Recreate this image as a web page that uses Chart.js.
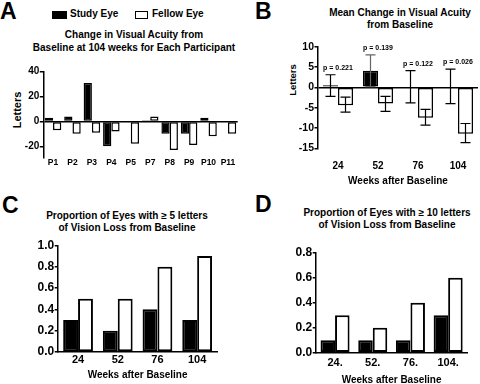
<!DOCTYPE html>
<html><head><meta charset="utf-8">
<script src="https://cdn.jsdelivr.net/npm/chart.js@4/dist/chart.umd.min.js"></script>
<style>
html,body{margin:0;padding:0;background:#fff}
body{width:480px;height:384px;position:relative;overflow:hidden;font-family:"Liberation Sans",Arial,sans-serif;font-weight:bold;color:#000}
.t{position:absolute;white-space:nowrap}
.letter{font-size:23px;line-height:23px}
.ttl{font-size:10px;text-align:center;transform:translateX(-50%)}
.yt{transform:translate(-50%,-50%) rotate(-90deg)}
canvas{position:absolute}
.box{position:absolute;box-sizing:border-box}
</style></head><body>

<div class="t letter" style="left:0;top:0">A</div>
<div class="t letter" style="left:255px;top:0">B</div>
<div class="t letter" style="left:2px;top:194px">C</div>
<div class="t letter" style="left:255px;top:193px">D</div>

<div class="box" style="left:52px;top:11px;width:15px;height:8px;background:#000"></div>
<div class="t" style="left:70px;top:8px;font-size:10px">Study Eye</div>
<div class="box" style="left:135px;top:11px;width:13px;height:8px;border:1.5px solid #000;background:#fff"></div>
<div class="t" style="left:152px;top:8px;font-size:10px">Fellow Eye</div>

<div class="t ttl" style="left:134px;top:27.5px;line-height:13px">Change in Visual Acuity from<br>Baseline at 104 weeks for Each Participant</div>
<div class="t ttl" style="left:400px;top:7px;line-height:11.5px">Mean Change in Visual Acuity<br>from Baseline</div>
<div class="t ttl" style="left:127px;top:210px;line-height:12px">Proportion of Eyes with ≥ 5 letters<br>of Vision Loss from Baseline</div>
<div class="t ttl" style="left:387px;top:207px;line-height:11.5px">Proportion of Eyes with ≥ 10 letters<br>of Vision Loss from Baseline</div>

<div class="t yt" style="left:16.7px;top:110px;font-size:11px">Letters</div>
<div class="t yt" style="left:291.5px;top:80px;font-size:9.5px">Letters</div>

<canvas id="cA" style="left:0;top:60px" width="240" height="110"></canvas>
<canvas id="cB" style="left:240px;top:30px" width="240" height="160"></canvas>
<canvas id="cC" style="left:0;top:235px" width="240" height="149"></canvas>
<canvas id="cD" style="left:240px;top:240px" width="240" height="144"></canvas>

<script>
// ---- Data ----
const participants = ['P1','P2','P3','P4','P5','P7','P8','P9','P10','P11'];
const studyA  = [3, 4, 31, -20, 0, 1, -10, -10, 3, 0];
const fellowA = [-7, -10, -9, -8, -18, 4, -23, -19, -12, -10];
const ticksA = [-20, 0, 20, 40];

const weeks = ['24','52','76','104'];
const studyB      = [0.5, 4.1, 0.2, 0.2];
const studyBLow   = [-2.2, 0.2, -3.8, -4.0];
const studyBHigh  = [3.1, 8.0, 4.1, 4.5];
const fellowB     = [-4.4, -4.0, -7.5, -11.4];
const fellowBLow  = [-6.1, -5.9, -9.3, -13.6];
const fellowBHigh = [-2.4, -2.2, -5.4, -8.9];
const pValues = ['p = 0.221','p = 0.139','p = 0.122','p = 0.026'];

const studyC  = [0.3, 0.2, 0.4, 0.3];
const fellowC = [0.5, 0.5, 0.8, 0.9];

const weeksD = ['24.','52.','76.','104.'];
const studyD  = [0.1, 0.1, 0.1, 0.3];
const fellowD = [0.3, 0.2, 0.4, 0.6];

// ---- Common ----
const FONT = '"Liberation Sans", Arial, sans-serif';
Chart.defaults.font.family = FONT;
Chart.defaults.font.weight = 'bold';
Chart.defaults.color = '#000';
Chart.defaults.animation = false;

function ds(label, data, filled, bw) {
  return {label, data, backgroundColor: filled ? '#000' : '#fff', borderColor: '#000',
    borderWidth: bw, borderSkipped: false, barPercentage: 1, categoryPercentage: 0.8};
}

function makeChart(id, cfg) {
  const {labels, sets, yMin, yMax, step, yTicks, yW, xH, pad, catPct, yFont, xFont, xTickPad,
         zeroLine, xBorder, xTitle, xTitleFont, xTitlePad, fmt, plugins} = cfg;
  sets.forEach(s => s.categoryPercentage = catPct);
  return new Chart(document.getElementById(id), {
    type: 'bar',
    data: {labels, datasets: sets},
    plugins: plugins || [],
    options: {
      responsive: false, maintainAspectRatio: false,
      layout: {padding: pad},
      plugins: {legend: {display: false}, tooltip: {enabled: false}},
      scales: {
        x: {
          grid: {display: false, drawTicks: false},
          border: {display: xBorder, color: '#000', width: 1.5},
          ticks: {font: {size: xFont, weight: 'bold'}, padding: xTickPad, maxRotation: 0, autoSkip: false},
          title: xTitle ? {display: true, text: xTitle, font: {size: xTitleFont, weight: 'bold'}, padding: xTitlePad} : {display: false},
          afterFit: s => { s.height = xH; }
        },
        y: {
          min: yMin, max: yMax,
          grid: {
            drawOnChartArea: !!zeroLine, drawTicks: true, tickLength: 3.5, tickWidth: 1.5,
            tickColor: '#000', lineWidth: 1.5,
            color: c => (zeroLine && c.tick && c.tick.value === 0) ? '#000' : 'rgba(0,0,0,0)'
          },
          border: {display: true, color: '#000', width: 1.5},
          ticks: {font: {size: yFont, weight: 'bold'}, padding: 0.5, stepSize: step,
                  callback: v => fmt ? fmt(v) : v},
          afterBuildTicks: yTicks ? (s => { s.ticks = yTicks.map(v => ({value: v})); }) : undefined,
          afterFit: s => { s.width = yW; }
        }
      }
    }
  });
}

// Panel A
makeChart('cA', {
  labels: participants,
  sets: [ds('Study Eye', studyA, true, 1.5), ds('Fellow Eye', fellowA, false, 1.5)],
  yMin: -29, yMax: 40, yTicks: ticksA, yW: 43.3, xH: 12.5,
  pad: {left: 0, right: 2.3, top: 11.7, bottom: 0}, catPct: 0.85,
  yFont: 10, xFont: 8.5, xTickPad: 0, zeroLine: true, xBorder: false
});

// Panel B: error bars + p-values plugin
const errorBars = {
  id: 'errorBars',
  afterDatasetsDraw(chart) {
    const ctx = chart.ctx, y = chart.scales.y;
    const lows = [studyBLow, fellowBLow], highs = [studyBHigh, fellowBHigh];
    ctx.save();
    ctx.lineWidth = 1.2;
    chart.data.datasets.forEach((d, di) => {
      const meta = chart.getDatasetMeta(di);
      meta.data.forEach((bar, i) => {
        const x = bar.x, top = y.getPixelForValue(highs[di][i]), bot = y.getPixelForValue(lows[di][i]);
        const cap = 5;
        ctx.strokeStyle = (di === 0 && i === 1) ? '#666' : '#000';
        ctx.beginPath();
        ctx.moveTo(x, top); ctx.lineTo(x, bot);
        ctx.moveTo(x - cap, top); ctx.lineTo(x + cap, top);
        ctx.moveTo(x - cap, bot); ctx.lineTo(x + cap, bot);
        ctx.stroke();
      });
    });
    // p-values centered above each group
    ctx.font = 'bold 7px ' + FONT;
    ctx.fillStyle = '#000';
    ctx.textAlign = 'center';
    ctx.textBaseline = 'middle';
    const xs = chart.scales.x;
    pValues.forEach((p, i) => {
      const hi = Math.max(studyBHigh[i], fellowBHigh[i], studyB[i]);
      ctx.fillText(p, xs.getPixelForValue(i), y.getPixelForValue(hi) - 7);
    });
    ctx.restore();
  }
};
makeChart('cB', {
  labels: weeks,
  sets: [ds('Study Eye', studyB, true, 1.5), ds('Fellow Eye', fellowB, false, 1.5)],
  yMin: -15, yMax: 10, step: 5, yW: 78, xH: 41.7,
  pad: {left: 0, right: 2, top: 16.7, bottom: 0}, catPct: 0.75,
  yFont: 10.5, xFont: 10, xTickPad: 11.7, zeroLine: true, xBorder: false,
  xTitle: 'Weeks after Baseline', xTitleFont: 10, xTitlePad: {top: 0, bottom: 3},
  plugins: [errorBars]
});

// Panel C
makeChart('cC', {
  labels: weeks,
  sets: [ds('Study Eye', studyC, true, 2), ds('Fellow Eye', fellowC, false, 2)],
  yMin: 0, yMax: 1.0, step: 0.2, yW: 58.2, xH: 32,
  pad: {left: 0, right: 23, top: 10.3, bottom: 0}, catPct: 0.75,
  yFont: 12, xFont: 11, xTickPad: 1.4, zeroLine: false, xBorder: true,
  xTitle: 'Weeks after Baseline', xTitleFont: 10, xTitlePad: {top: 0, bottom: 3},
  fmt: v => v.toFixed(1)
});

// Panel D
makeChart('cD', {
  labels: weeksD,
  sets: [ds('Study Eye', studyD, true, 2), ds('Fellow Eye', fellowD, false, 2)],
  yMin: 0, yMax: 0.8, step: 0.2, yW: 76.2, xH: 31.3,
  pad: {left: 0, right: 13, top: 12.7, bottom: 0}, catPct: 0.77,
  yFont: 12, xFont: 11, xTickPad: 3.4, zeroLine: false, xBorder: true,
  xTitle: 'Weeks after Baseline', xTitleFont: 10, xTitlePad: {top: 0, bottom: -2},
  fmt: v => v.toFixed(1)
});
</script>
</body></html>
